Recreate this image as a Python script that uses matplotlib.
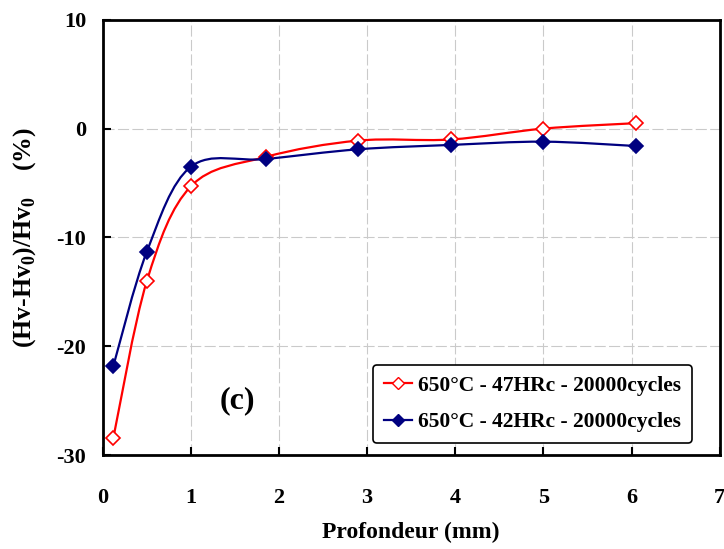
import numpy as np
import matplotlib
matplotlib.use("Agg")
import matplotlib.pyplot as plt
from matplotlib.path import Path
from matplotlib.patches import PathPatch
from matplotlib.lines import Line2D

plt.rcParams['font.family'] = ['Liberation Serif', 'DejaVu Serif']
plt.rcParams['font.weight'] = 'bold'
plt.rcParams['mathtext.fontset'] = 'custom'
plt.rcParams['mathtext.rm'] = 'Liberation Serif:bold'
plt.rcParams['mathtext.bf'] = 'Liberation Serif:bold'
plt.rcParams['axes.unicode_minus'] = False

depth_47 = [0.12, 0.5, 1.0, 1.85, 2.9, 3.95, 5.0, 6.05]
hv_47 = [-28.4, -14.0, -5.3, -2.6, -1.1, -1.0, 0.0, 0.5]
depth_42 = [0.12, 0.5, 1.0, 1.85, 2.9, 3.95, 5.0, 6.05]
hv_42 = [-21.8, -11.3, -3.5, -2.8, -1.9, -1.5, -1.2, -1.6]
label_47 = "650°C - 47HRc - 20000cycles"
label_42 = "650°C - 42HRc - 20000cycles"
xticks = [0, 1, 2, 3, 4, 5, 6, 7]
yticks = [-30, -20, -10, 0, 10]


def smooth_path(x, y):
    # Excel-like smoothed line: cubic Bezier through the points
    x = np.asarray(x, float); y = np.asarray(y, float)
    n = len(x)
    verts = [(x[0], y[0])]
    codes = [Path.MOVETO]
    for i in range(n - 1):
        p0 = np.array([x[max(i - 1, 0)], y[max(i - 1, 0)]])
        p1 = np.array([x[i], y[i]])
        p2 = np.array([x[i + 1], y[i + 1]])
        p3 = np.array([x[min(i + 2, n - 1)], y[min(i + 2, n - 1)]])
        c1 = p1 + (p2 - p0) / 6.0
        c2 = p2 - (p3 - p1) / 6.0
        verts += [tuple(c1), tuple(c2), tuple(p2)]
        codes += [Path.CURVE4] * 3
    return Path(verts, codes)


fig = plt.figure(figsize=(7.24, 5.49), dpi=100)
ax = fig.add_axes([0.142, 0.171, 0.852, 0.793])

for xs, ys, col, face, lab in [(depth_47, hv_47, '#FF0000', 'white', label_47),
                               (depth_42, hv_42, '#000080', '#000080', label_42)]:
    ax.add_patch(PathPatch(smooth_path(xs, ys), facecolor='none', edgecolor=col, lw=1.6, zorder=3))
    ax.plot(xs, ys, linestyle='none', marker='D', markersize=7, markeredgewidth=1.2,
            markeredgecolor=col, markerfacecolor=face, zorder=4)

ax.set_xlim(0, 7)
ax.set_ylim(-30, 10)
ax.set_xticks(xticks)
ax.set_yticks(yticks)
ax.grid(True, color='#cacaca', linestyle=(0, (10, 3)), linewidth=0.8)
ax.set_axisbelow(True)
ax.tick_params(direction='in', length=6, width=1.5, labelsize=16)
ax.tick_params(axis='x', pad=24)
ax.tick_params(axis='y', pad=12)
for lab in ax.get_xticklabels() + ax.get_yticklabels():
    lab.set_fontweight('bold')
for sp in ax.spines.values():
    sp.set_linewidth(2.0)

ax.set_xlabel('Profondeur (mm)', fontsize=17, fontweight='bold', labelpad=10)
ax.set_ylabel(r'(Hv-Hv$_0$)/Hv$_0$    (%)', fontsize=18.5, fontweight='bold', labelpad=13)

ax.text(1.53, -25.0, '(c)', fontsize=23, fontweight='bold', ha='center', va='center')

handles = [Line2D([], [], color='#FF0000', lw=1.6, marker='D', markersize=6.5,
                  markerfacecolor='white', markeredgecolor='#FF0000'),
           Line2D([], [], color='#000080', lw=1.6, marker='D', markersize=6.5,
                  markerfacecolor='#000080', markeredgecolor='#000080')]
leg = ax.legend(handles, [label_47, label_42], loc='lower right',
                bbox_to_anchor=(0.955, 0.028), borderaxespad=0,
                prop={'family': 'Liberation Serif', 'weight': 'bold', 'size': 15.5},
                frameon=True, fancybox=True, edgecolor='black', framealpha=1,
                handlelength=1.3, handletextpad=0.3, borderpad=0.5, labelspacing=0.75)
leg.get_frame().set_linewidth(1.2)

fig.savefig('out.png', dpi=100)
